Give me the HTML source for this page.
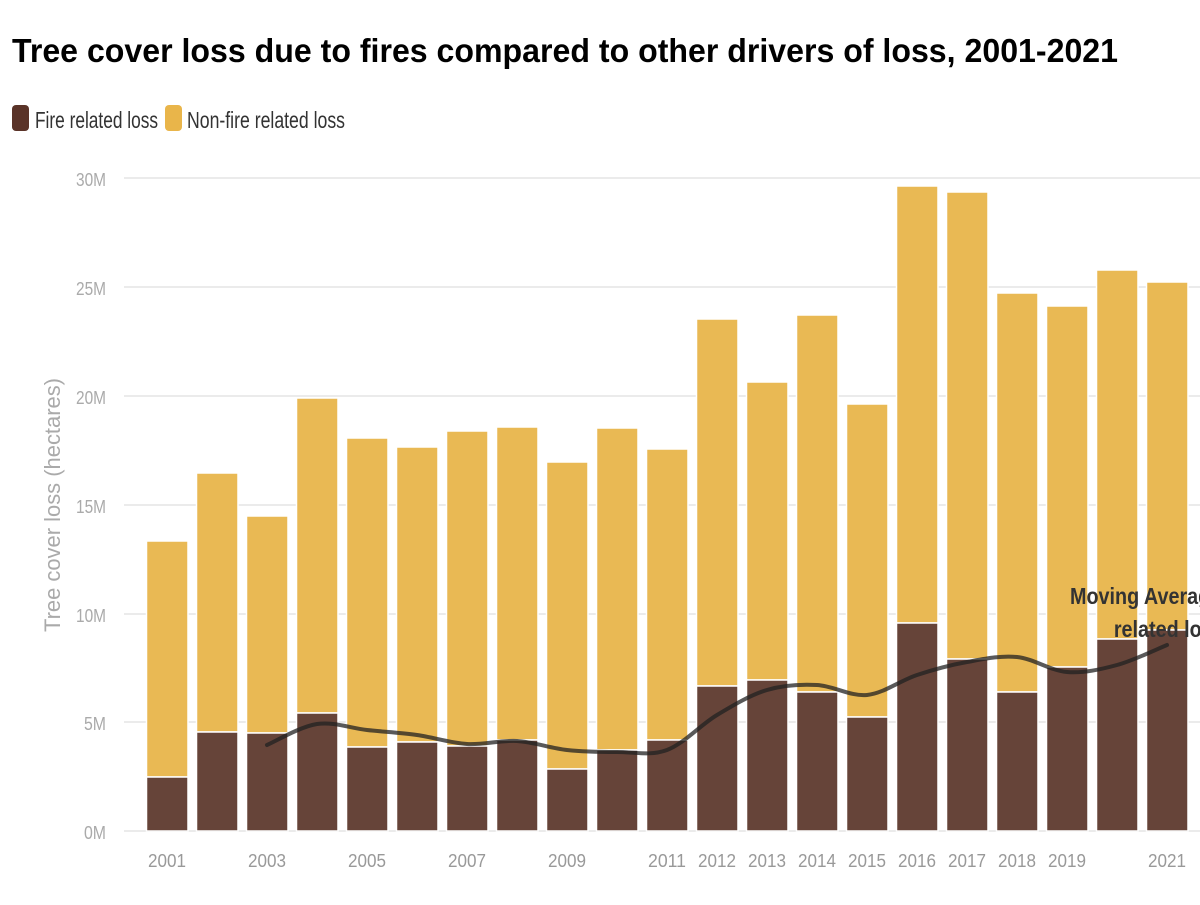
<!DOCTYPE html><html><head><meta charset="utf-8"><style>
body{margin:0;width:1200px;height:900px;background:#fff;overflow:hidden;font-family:"Liberation Sans",sans-serif}
</style></head><body>
<svg width="1200" height="900" xmlns="http://www.w3.org/2000/svg" font-family="Liberation Sans, sans-serif">
<text x="12" y="62" font-size="33" font-weight="bold" fill="#000" textLength="1106" lengthAdjust="spacingAndGlyphs">Tree cover loss due to fires compared to other drivers of loss, 2001-2021</text>
<rect x="12" y="105" width="17" height="26" rx="4" fill="#5a3328"/>
<text x="35" y="128" font-size="23" fill="#333" textLength="123" lengthAdjust="spacingAndGlyphs">Fire related loss</text>
<rect x="165" y="105" width="17" height="26" rx="4" fill="#e9b54a"/>
<text x="187" y="128" font-size="23" fill="#333" textLength="158" lengthAdjust="spacingAndGlyphs">Non-fire related loss</text>
<g stroke="#ebebeb" stroke-width="2">
<line x1="124" x2="1200" y1="178" y2="178"/><line x1="124" x2="1200" y1="287" y2="287"/><line x1="124" x2="1200" y1="396" y2="396"/><line x1="124" x2="1200" y1="505" y2="505"/><line x1="124" x2="1200" y1="614" y2="614"/><line x1="124" x2="1200" y1="722" y2="722"/><line x1="124" x2="1200" y1="831" y2="831"/></g>
<g font-size="18" fill="#aaa" text-anchor="end">
<text x="106" y="186" textLength="30" lengthAdjust="spacingAndGlyphs">30M</text><text x="106" y="295" textLength="30" lengthAdjust="spacingAndGlyphs">25M</text><text x="106" y="404" textLength="30" lengthAdjust="spacingAndGlyphs">20M</text><text x="106" y="513" textLength="30" lengthAdjust="spacingAndGlyphs">15M</text><text x="106" y="622" textLength="30" lengthAdjust="spacingAndGlyphs">10M</text><text x="106" y="730" textLength="22" lengthAdjust="spacingAndGlyphs">5M</text><text x="106" y="839" textLength="22" lengthAdjust="spacingAndGlyphs">0M</text></g>
<text transform="translate(60,505) rotate(-90)" text-anchor="middle" font-size="22" fill="#aaa" textLength="254" lengthAdjust="spacingAndGlyphs">Tree cover loss (hectares)</text>
<g id="bars" stroke="#fff" stroke-width="1.5"></g>
<path id="ma" fill="none" stroke="#222" stroke-opacity="0.75" stroke-width="4" stroke-linecap="round"/>
<g font-size="18" fill="#999" text-anchor="middle" id="xl"></g>
<g transform="translate(1070,604) scale(0.86,1)" font-size="23" font-weight="bold" fill="#333">
<text x="0" y="0">Moving Average of fire</text>
<text x="51" y="33">related loss</text></g>
</svg>
<script>
var tot=[541,473,516,398,438,447,431,427,462,428,449,319,382,315,404,186,192,293,306,270,282];
var fire=[777,732,733,713,747,742,746,740,769,750,740,686,680,692,717,623,659,692,667,639,630];
var g=document.getElementById('bars'),s='';
for(var i=0;i<21;i++){var x=146.5+50*i;
s+='<rect x="'+x+'" y="'+tot[i]+'" width="41.5" height="'+(fire[i]-tot[i])+'" fill="#e9b954"/>';
s+='<rect x="'+x+'" y="'+fire[i]+'" width="41.5" height="'+(831-fire[i])+'" fill="#664439"/>';}
g.innerHTML=s;
var ma=[745,724,730,735,744,741,750,752,750,715,690,685,695,675,662,657,672,665,645];
var pts=ma.map(function(v,k){return [267+50*k,v]});
var d='M'+pts[0];
for(var k=0;k<pts.length-1;k++){var p0=pts[k-1]||pts[k],p1=pts[k],p2=pts[k+1],p3=pts[k+2]||p2;
d+=' C'+(p1[0]+(p2[0]-p0[0])/6)+','+(p1[1]+(p2[1]-p0[1])/6)+' '+(p2[0]-(p3[0]-p1[0])/6)+','+(p2[1]-(p3[1]-p1[1])/6)+' '+p2;}
document.getElementById('ma').setAttribute('d',d);
var yrs=[2001,2003,2005,2007,2009,2011,2012,2013,2014,2015,2016,2017,2018,2019,2021],t='';
yrs.forEach(function(y){t+='<text x="'+(167+50*(y-2001))+'" y="867" textLength="38" lengthAdjust="spacingAndGlyphs">'+y+'</text>'});
document.getElementById('xl').innerHTML=t;
</script>
</body></html>
